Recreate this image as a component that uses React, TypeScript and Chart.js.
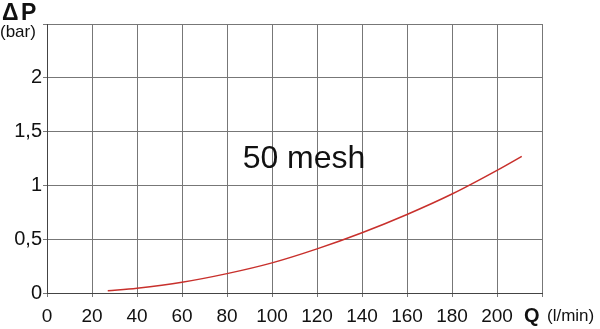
import React, { useEffect, useRef } from "react";
import { Chart, registerables } from "chart.js";
Chart.register(...registerables);

const flowQ = [27, 40, 60, 80, 100, 120, 140, 160, 180, 200, 211];
const deltaP = [0.02, 0.045, 0.1, 0.18, 0.28, 0.41, 0.56, 0.73, 0.92, 1.14, 1.27];
const xTickLabels = ["0", "20", "40", "60", "80", "100", "120", "140", "160", "180", "200"];
const yTickLabels = ["0", "0,5", "1", "1,5", "2"];
const curveLabel = "50 mesh";

const FONT = "'Liberation Sans', Arial, sans-serif";

export default function App() {
  const ref = useRef<HTMLCanvasElement | null>(null);
  useEffect(() => {
    document.body.style.margin = "0";
    const textPlugin = {
      id: "texts",
      afterDraw(chart: any) {
        const ctx = chart.ctx;
        ctx.save();
        ctx.fillStyle = "#111";
        ctx.textBaseline = "alphabetic";
        ctx.textAlign = "left";
        ctx.font = `bold 23px ${FONT}`;
        ctx.fillText("\u0394", 2, 20);
        ctx.fillText("P", 21, 20);
        ctx.font = `17px ${FONT}`;
        ctx.fillText("(bar)", 0, 37);
        ctx.font = `bold 20px ${FONT}`;
        ctx.fillText("Q", 524, 322);
        ctx.font = `17px ${FONT}`;
        ctx.fillText("(l/min)", 547, 321);
        ctx.font = `32px ${FONT}`;
        ctx.textAlign = "center";
        ctx.fillText(curveLabel, 304, 168);
        ctx.restore();
      },
    };
    const chart = new Chart(ref.current!, {
      type: "line",
      data: {
        datasets: [
          {
            data: flowQ.map((q, i) => ({ x: q, y: deltaP[i] })),
            borderColor: "#c8302c",
            borderWidth: 1.5,
            pointRadius: 0,
            tension: 0.4,
            cubicInterpolationMode: "monotone",
          },
        ],
      },
      options: {
        animation: false,
        responsive: false,
        layout: { padding: { left: 0, right: 58, top: 24, bottom: 0 } },
        plugins: { legend: { display: false }, tooltip: { enabled: false } },
        scales: {
          x: {
            type: "linear",
            min: 0,
            max: 220,
            afterFit(s: any) { s.height = 36; },
            ticks: {
              stepSize: 20,
              color: "#111",
              font: { family: FONT, size: 19 },
              padding: 8,
              maxRotation: 0,
              autoSkip: false,
              callback: (v: any) => {
                const i = Math.round(Number(v) / 20);
                return i < xTickLabels.length && Number(v) % 20 === 0 ? xTickLabels[i] : "";
              },
            },
            grid: { color: "#777", lineWidth: 1, tickLength: 4, drawTicks: true },
            border: { color: "#444", width: 1 },
          },
          y: {
            type: "linear",
            min: 0,
            max: 2.5,
            afterFit(s: any) { s.width = 47; },
            ticks: {
              stepSize: 0.5,
              color: "#111",
              font: { family: FONT, size: 20 },
              padding: 1,
              callback: (v: any) => {
                const i = Math.round(Number(v) / 0.5);
                return i < yTickLabels.length ? yTickLabels[i] : "";
              },
            },
            grid: { color: "#777", lineWidth: 1, tickLength: 4 },
            border: { color: "#444", width: 1 },
          },
        },
      },
      plugins: [textPlugin],
    } as any);
    return () => chart.destroy();
  }, []);
  return (
    <div style={{ width: 600, height: 329, background: "#fff" }}>
      <canvas ref={ref} width={600} height={329} style={{ display: "block" }} />
    </div>
  );
}
